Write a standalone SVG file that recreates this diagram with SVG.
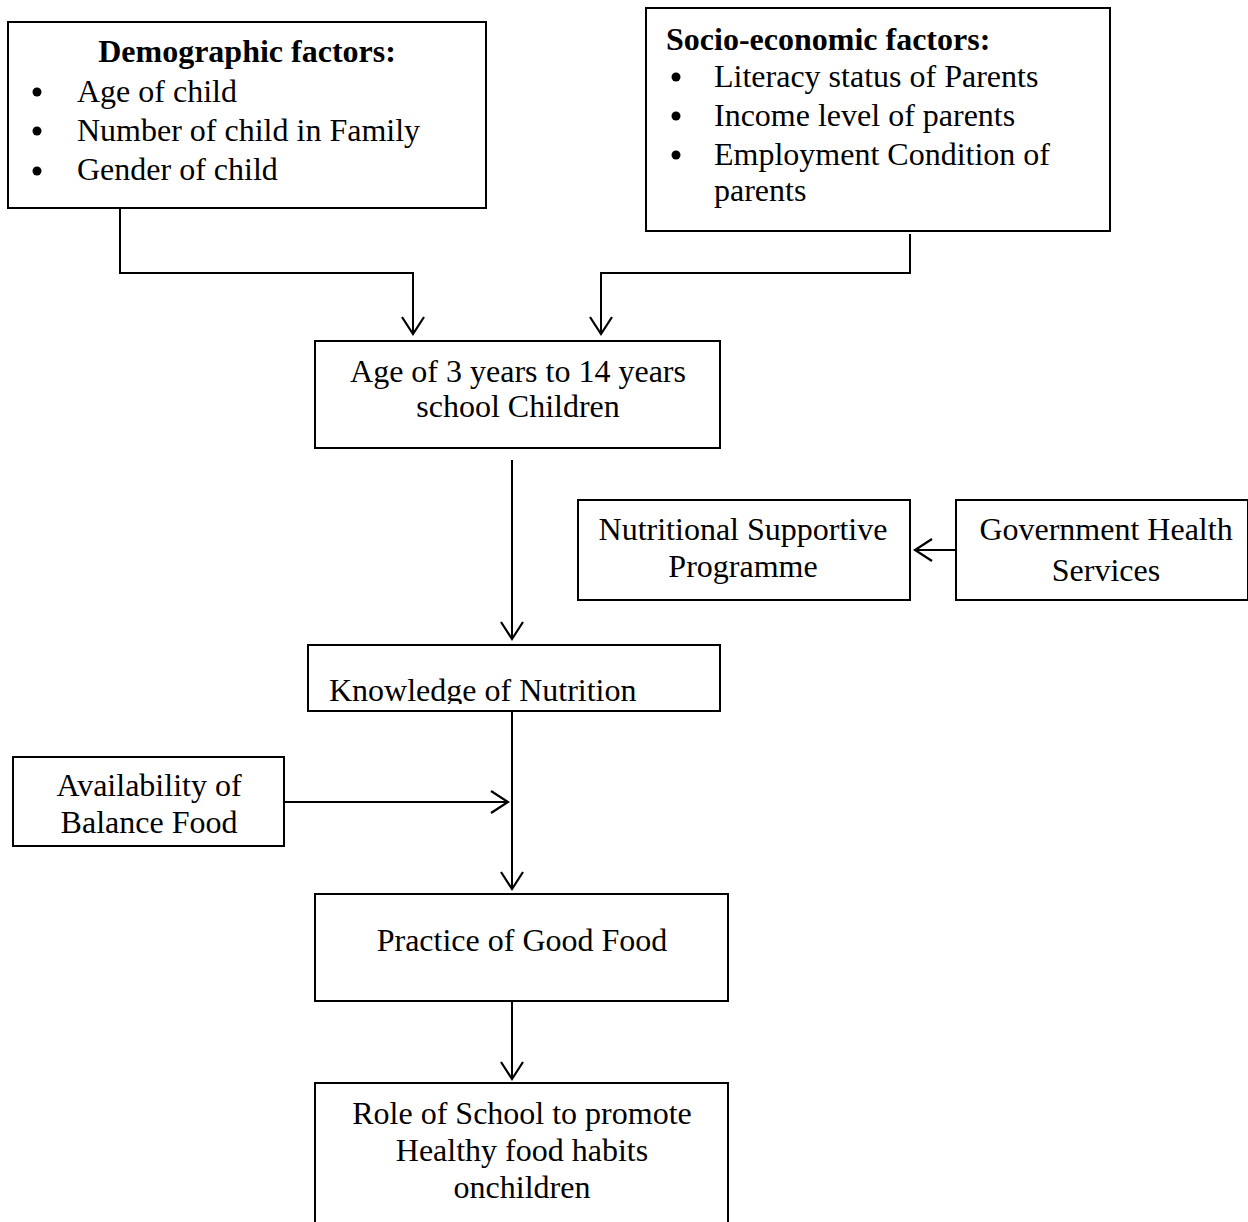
<svg xmlns="http://www.w3.org/2000/svg" width="1248" height="1222" viewBox="0 0 1248 1222">
<style>
.box{fill:#fff;stroke:#000;stroke-width:2}
.t{font-family:"Liberation Serif","Times New Roman",serif;font-size:32px;fill:#000}
.c{text-anchor:middle}
.b{font-weight:bold}
.ln{fill:none;stroke:#000;stroke-width:2}
</style>
<defs>
<marker id="ah" viewBox="0 0 24 24" refX="21" refY="12" markerWidth="24" markerHeight="24" markerUnits="userSpaceOnUse" orient="auto">
<path d="M4,1 L21,12 L4,23" fill="none" stroke="#000" stroke-width="2.2"/>
</marker>
<clipPath id="clipSocio"><rect x="646" y="8" width="464" height="214"/></clipPath>
<clipPath id="clipKnow"><rect x="308" y="645" width="412" height="59"/></clipPath>
</defs>
<rect width="1248" height="1222" fill="#fff"/>
<g id="connectors">
<path class="ln" d="M120,208 V273 H413 V334" marker-end="url(#ah)"/>
<path class="ln" d="M910,234 V273 H601 V334" marker-end="url(#ah)"/>
<path class="ln" d="M512,460 V639" marker-end="url(#ah)"/>
<path class="ln" d="M512,711 V889" marker-end="url(#ah)"/>
<path class="ln" d="M284,802 H508" marker-end="url(#ah)"/>
<path class="ln" d="M512,1001 V1079" marker-end="url(#ah)"/>
<path class="ln" d="M956,550 H915" marker-end="url(#ah)"/>
</g>
<g id="demographic">
<rect class="box" x="8" y="22" width="478" height="186"/>
<text class="t c b" x="247" y="62">Demographic factors:</text>
<circle cx="37" cy="92" r="4.5"/><text class="t" x="77" y="102">Age of child</text>
<circle cx="37" cy="131" r="4.5"/><text class="t" x="77" y="141">Number of child in Family</text>
<circle cx="37" cy="171" r="4.5"/><text class="t" x="77" y="180">Gender of child</text>
</g>
<g id="socioeconomic">
<rect class="box" x="646" y="8" width="464" height="223"/>
<g clip-path="url(#clipSocio)">
<text class="t b" x="666" y="50">Socio-economic factors:</text>
<circle cx="676" cy="77" r="4.5"/><text class="t" x="714" y="87">Literacy status of Parents</text>
<circle cx="676" cy="116" r="4.5"/><text class="t" x="714" y="126">Income level of parents</text>
<circle cx="676" cy="155" r="4.5"/><text class="t" x="714" y="165">Employment Condition of</text>
<text class="t" x="714" y="201">parents</text>
</g>
</g>
<g id="age">
<rect class="box" x="315" y="341" width="405" height="107"/>
<text class="t c" x="518" y="382">Age of 3 years to 14 years</text>
<text class="t c" x="518" y="417">school Children</text>
</g>
<g id="nutritional">
<rect class="box" x="578" y="500" width="332" height="100"/>
<text class="t c" x="743" y="540">Nutritional Supportive</text>
<text class="t c" x="743" y="577">Programme</text>
</g>
<g id="government">
<rect class="box" x="956" y="500" width="292" height="100"/>
<text class="t c" x="1106" y="540">Government Health</text>
<text class="t c" x="1106" y="581">Services</text>
</g>
<g id="knowledge">
<rect class="box" x="308" y="645" width="412" height="66"/>
<text class="t" x="329" y="701" clip-path="url(#clipKnow)">Knowledge of Nutrition</text>
</g>
<g id="availability">
<rect class="box" x="13" y="757" width="271" height="89"/>
<text class="t c" x="149" y="796">Availability of</text>
<text class="t c" x="149" y="833">Balance Food</text>
</g>
<g id="practice">
<rect class="box" x="315" y="894" width="413" height="107"/>
<text class="t c" x="522" y="951">Practice of Good Food</text>
</g>
<g id="role">
<path class="ln" d="M315,1224 V1083 H728 V1224"/>
<text class="t c" x="522" y="1124">Role of School to promote</text>
<text class="t c" x="522" y="1161">Healthy food habits</text>
<text class="t c" x="522" y="1198">onchildren</text>
</g>
</svg>
